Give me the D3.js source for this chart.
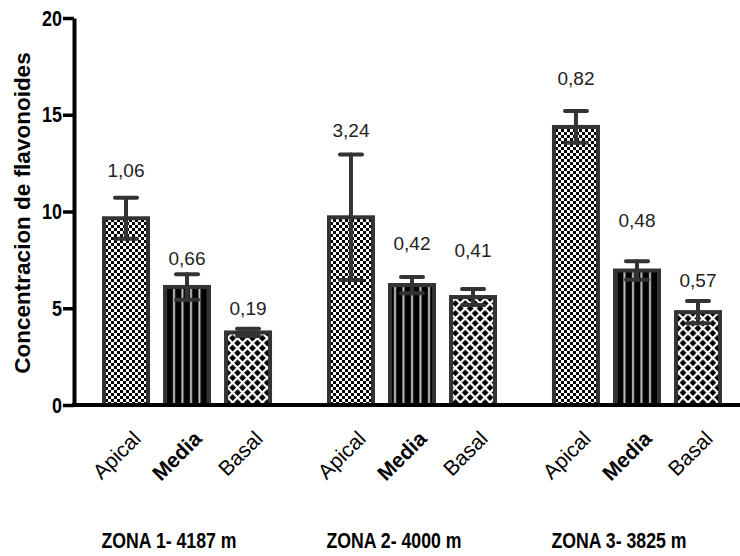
<!DOCTYPE html>
<html>
<head>
<meta charset="utf-8">
<script src="https://cdn.jsdelivr.net/npm/d3@7"></script>
<style>
  body { margin: 0; background: #fff; }
  svg { display: block; }
  svg text { font-family: "Liberation Sans", Arial, sans-serif; }
</style>
</head>
<body>
<div id="vis-holder"></div>
<script>
// Data
const zones = ["ZONA 1- 4187 m", "ZONA 2- 4000 m", "ZONA 3- 3825 m"];
const parts = ["Apical", "Media", "Basal"];
const means = [[9.65, 6.1, 3.75], [9.7, 6.2, 5.58], [14.37, 6.95, 4.8]];
const sds = [[1.06, 0.66, 0.19], [3.24, 0.42, 0.41], [0.82, 0.48, 0.57]];
const sdLabels = [["1,06", "0,66", "0,19"], ["3,24", "0,42", "0,41"], ["0,82", "0,48", "0,57"]];
// height (in data units) where each value label sits
const labelAt = [[12.14, 7.6, 5.0], [14.2, 8.37, 8.0], [16.9, 9.56, 6.46]];
const yTicks = [0, 5, 10, 15, 20];

const width = 740;
const height = 556;
const axisX = 74;

const svg = d3.select("#vis-holder")
              .append("svg")
              .attr("width", width)
              .attr("height", height);

// patterns for the three parts
const defs = svg.append("defs");

const checker = defs.append("pattern")
    .attr("id", "pat-Apical")
    .attr("patternUnits", "userSpaceOnUse")
    .attr("width", 6).attr("height", 6);
checker.append("rect").attr("width", 6).attr("height", 6).attr("fill", "#fff");
checker.append("rect").attr("width", 3).attr("height", 3).attr("fill", "#000");
checker.append("rect").attr("x", 3).attr("y", 3).attr("width", 3).attr("height", 3).attr("fill", "#000");

const stripes = defs.append("pattern")
    .attr("id", "pat-Media")
    .attr("patternUnits", "userSpaceOnUse")
    .attr("width", 8.5).attr("height", 10);
stripes.append("rect").attr("width", 8.5).attr("height", 10).attr("fill", "#000");
stripes.append("rect").attr("x", 3).attr("width", 2).attr("height", 10).attr("fill", "#c4c4c4");

const hatch = defs.append("pattern")
    .attr("id", "pat-Basal")
    .attr("patternUnits", "userSpaceOnUse")
    .attr("width", 7).attr("height", 7)
    .attr("patternTransform", "rotate(45)");
hatch.append("rect").attr("width", 7).attr("height", 7).attr("fill", "#000");
hatch.append("rect").attr("width", 2.2).attr("height", 7).attr("fill", "#fff");
hatch.append("rect").attr("width", 7).attr("height", 2.2).attr("fill", "#fff");

// scales
const y = d3.scaleLinear()
            .domain([0, 20])
            .range([405, 18]);

const x0 = d3.scaleBand()
             .domain(zones)
             .range([104, 720])
             .paddingInner(0.262);

const x1 = d3.scaleBand()
             .domain(parts)
             .range([0, x0.bandwidth()])
             .paddingInner(0.279);

// flatten into one record per bar
const rows = [];
zones.forEach((z, i) => {
  parts.forEach((p, j) => {
    rows.push({ zone: z, part: p, mean: means[i][j], sd: sds[i][j],
                label: sdLabels[i][j], labelY: labelAt[i][j] });
  });
});

const cx = (d) => x0(d.zone) + x1(d.part) + x1.bandwidth() / 2;

// bars
svg.selectAll(".bar")
   .data(rows)
   .enter()
   .append("rect")
     .attr("class", "bar")
     .attr("x", (d) => x0(d.zone) + x1(d.part))
     .attr("y", (d) => y(d.mean))
     .attr("width", x1.bandwidth())
     .attr("height", (d) => y(0) - y(d.mean))
     .attr("fill", (d) => `url(#pat-${d.part})`)
     .attr("stroke", "#333")
     .attr("stroke-width", 4);

// error bars
const err = svg.selectAll(".err")
   .data(rows)
   .enter()
   .append("g")
     .attr("class", "err")
     .attr("stroke", "#333")
     .attr("stroke-width", 4)
     .attr("stroke-linecap", "round");

err.append("line")
   .attr("x1", cx).attr("x2", cx)
   .attr("y1", (d) => y(d.mean - d.sd))
   .attr("y2", (d) => y(d.mean + d.sd));
err.append("line")
   .attr("x1", (d) => cx(d) - 11).attr("x2", (d) => cx(d) + 11)
   .attr("y1", (d) => y(d.mean + d.sd))
   .attr("y2", (d) => y(d.mean + d.sd));
err.append("line")
   .attr("x1", (d) => cx(d) - 11).attr("x2", (d) => cx(d) + 11)
   .attr("y1", (d) => y(d.mean - d.sd))
   .attr("y2", (d) => y(d.mean - d.sd));

// value labels
svg.selectAll(".val")
   .data(rows)
   .enter()
   .append("text")
     .attr("class", "val")
     .attr("x", cx)
     .attr("y", (d) => y(d.labelY))
     .attr("dy", "0.35em")
     .attr("text-anchor", "middle")
     .attr("font-size", "19px")
     .attr("fill", "#222")
     .text((d) => d.label);

// y axis
const yAxis = svg.append("g")
   .attr("transform", `translate(${axisX},0)`)
   .call(d3.axisLeft(y).tickValues(yTicks).tickSize(11).tickSizeOuter(0).tickPadding(1));
yAxis.select(".domain").attr("stroke", "#000").attr("stroke-width", 4);
yAxis.selectAll(".tick line").attr("stroke", "#000").attr("stroke-width", 3.5);
yAxis.selectAll(".tick text")
     .attr("font-size", "22px")
     .attr("font-weight", "bold")
     .attr("fill", "#000")
     .attr("font-family", "'Liberation Sans', Arial, sans-serif")
     .attr("textLength", (d) => String(d).length * 10)
     .attr("lengthAdjust", "spacingAndGlyphs");

// x baseline
svg.append("line")
   .attr("x1", axisX - 2).attr("x2", width)
   .attr("y1", y(0)).attr("y2", y(0))
   .attr("stroke", "#000")
   .attr("stroke-width", 4);

// y title
svg.append("text")
   .attr("transform", `translate(30,213) rotate(-90)`)
   .attr("text-anchor", "middle")
   .attr("font-size", "22.5px")
   .attr("font-weight", "bold")
   .attr("fill", "#000")
   .text("Concentracion de flavonoides");

// category labels
svg.selectAll(".cat")
   .data(rows)
   .enter()
   .append("text")
     .attr("class", "cat")
     .attr("transform", (d) => `translate(${cx(d) + 16},440) rotate(-45)`)
     .attr("text-anchor", "end")
     .attr("font-size", "21px")
     .attr("font-weight", (d) => d.part === "Media" ? "bold" : "normal")
     .attr("fill", "#000")
     .text((d) => d.part);

// zone labels
svg.selectAll(".zone")
   .data(zones)
   .enter()
   .append("text")
     .attr("class", "zone")
     .attr("x", (d) => x0(d) + x0.bandwidth() / 2 - 18)
     .attr("y", 548)
     .attr("text-anchor", "middle")
     .attr("font-size", "22px")
     .attr("font-weight", "bold")
     .attr("fill", "#000")
     .attr("textLength", 135)
     .attr("lengthAdjust", "spacingAndGlyphs")
     .text((d) => d);
</script>
</body>
</html>
